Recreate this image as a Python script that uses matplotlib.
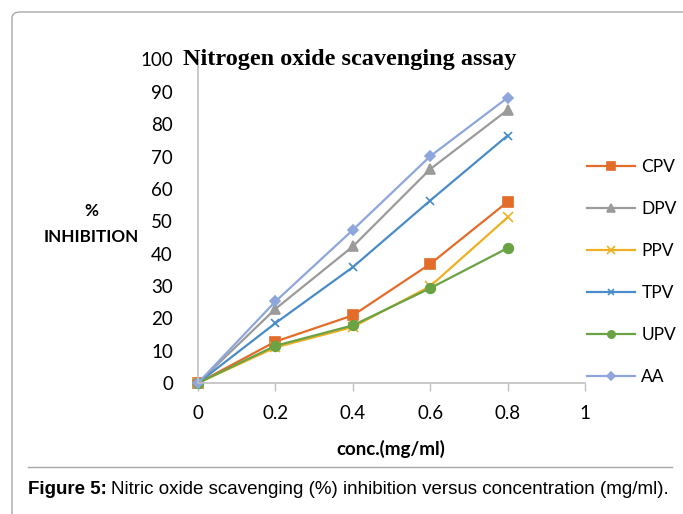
import matplotlib
matplotlib.use("Agg")
from matplotlib import pyplot as plt
from matplotlib.patches import FancyBboxPatch
from matplotlib.lines import Line2D

conc = [0, 0.2, 0.4, 0.6, 0.8]
cpv = [0, 12.8, 20.9, 36.8, 56.0]
dpv = [0, 22.9, 42.2, 66.1, 84.4]
ppv = [0, 11.0, 17.3, 29.9, 51.2]
tpv = [0, 18.5, 35.8, 56.4, 76.5]
upv = [0, 11.5, 17.8, 29.3, 41.7]
aa = [0, 25.2, 47.3, 70.1, 88.2]

series = [
    ("CPV", cpv, "#E36C2A", "s", 7),
    ("DPV", dpv, "#9B9B9B", "^", 7),
    ("PPV", ppv, "#EDB022", "x", 7),
    ("TPV", tpv, "#4A8CC8", "x", 6),
    ("UPV", upv, "#6AA244", "o", 7),
    ("AA", aa, "#8EA6DC", "D", 5),
]

W, H = 683, 514
FONT = "Lato"
fig = plt.figure(figsize=(W / 100, H / 100), dpi=100)

# outer frame and caption separator
frame = FancyBboxPatch((12 / W, -0.1), 1.0, (H - 12) / H + 0.1,
                       boxstyle="round,pad=0,rounding_size=0.012",
                       transform=fig.transFigure, fill=False,
                       edgecolor="#A8A8A8", linewidth=1.0)
fig.patches.append(frame)
fig.add_artist(Line2D([28 / W, 672 / W], [1 - 467 / H, 1 - 467 / H],
                      transform=fig.transFigure, color="#A8A8A8", linewidth=1.0))

ax = fig.add_axes([198 / W, 1 - 383 / H, 387 / W, 323.5 / H])

for name, vals, color, marker, ms in series:
    ax.plot(conc, vals, color=color, marker=marker, markersize=ms,
            linewidth=1.6, label=name, markeredgewidth=1.2, clip_on=False)

ax.set_xlim(0, 1)
ax.set_ylim(0, 100)
ax.set_xticks([0, 0.2, 0.4, 0.6, 0.8, 1])
ax.set_xticklabels(["0", "0.2", "0.4", "0.6", "0.8", "1"])
ax.set_yticks(range(0, 101, 10))
ax.tick_params(axis="y", length=0, pad=18, labelsize=13.5)
ax.tick_params(axis="x", length=6, width=1, color="#BFBFBF", pad=10, labelsize=13.5)
for lab in ax.get_xticklabels() + ax.get_yticklabels():
    lab.set_fontfamily(FONT)
for side in ["top", "right"]:
    ax.spines[side].set_visible(False)
for side in ["left", "bottom"]:
    ax.spines[side].set_color("#BFBFBF")
    ax.spines[side].set_linewidth(1.2)

fig.text(350 / W, 1 - 60 / H, "Nitrogen oxide scavenging assay",
         ha="center", va="center", fontsize=17.5, fontweight="bold",
         family="Liberation Serif")

fig.text(391 / W, 1 - 449 / H, "conc.(mg/ml)", ha="center", va="center",
         fontsize=13.5, fontweight="bold", family=FONT)
fig.text(91.5 / W, 1 - 224 / H, "%\nINHIBITION", ha="center", va="center",
         fontsize=12.3, fontweight="bold", family=FONT, linespacing=1.75)

leg = ax.legend(loc="upper left", bbox_to_anchor=(578 / W, 1 - 150 / H),
                bbox_transform=fig.transFigure, frameon=False, borderpad=0,
                prop={"family": FONT, "size": 12.5},
                handlelength=2.8, handletextpad=0.35, labelspacing=1.5,
                markerscale=0.75)

cap = fig.text(28 / W, 1 - 490 / H, "Figure 5:", ha="left", va="center",
               fontsize=13.5, fontweight="bold", family="Liberation Sans")
fig.canvas.draw()
bb = cap.get_window_extent()
fig.text(bb.x1 / W + 4 / W, 1 - 490 / H,
         "Nitric oxide scavenging (%) inhibition versus concentration (mg/ml).",
         ha="left", va="center", fontsize=13.5, family="Liberation Sans")

plt.savefig("out.png", dpi=100)
